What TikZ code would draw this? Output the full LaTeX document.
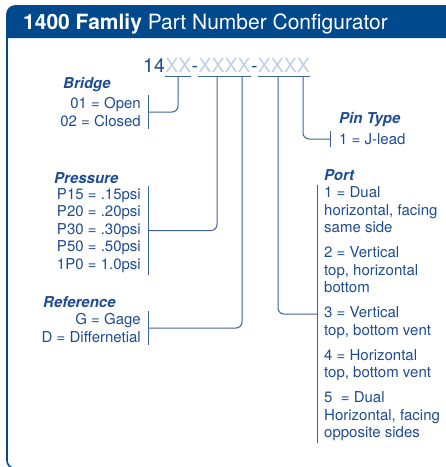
\documentclass[tikz,border=0pt]{standalone}
\usepackage{fontspec}
\setmainfont{TeX Gyre Heros}
\definecolor{cfgnavy}{RGB}{0,73,140}
\definecolor{cfgtext}{RGB}{30,76,144}
\definecolor{cfgline}{RGB}{62,98,160}
\definecolor{cfgpale}{RGB}{190,208,232}
\begin{document}
\begin{tikzpicture}[x=1pt,y=-1pt,
  wire/.style={draw=cfgline, line width=1pt, rounded corners=6pt},
  bar/.style={draw=cfgline, line width=1pt},
  head/.style={font=\fontsize{15}{17.5}\selectfont\bfseries\itshape, text=cfgtext, inner sep=0pt, anchor=west},
  items/.style={font=\fontsize{15}{17.5}\selectfont, text=cfgtext, inner xsep=7pt, inner ysep=2pt},
  code/.style={font=\fontsize{19.5}{20}\selectfont, inner sep=0pt, anchor=base west}]
\useasboundingbox (0,0) rectangle (446,467);
\draw[cfgnavy, line width=1.6pt, rounded corners=8pt] (7,6) rectangle (470,468.5);
\fill[cfgnavy] (7,38) -- (7,14) arc[start angle=180, end angle=270, radius=8] -- (470,6) -- (470,38) -- cycle;
\node[anchor=base west, inner sep=0pt, text=white, font=\fontsize{21}{22}\selectfont] (title) at (23,29) {\textbf{1400 Famliy} Part Number Configurator};
\node[code, text=cfgtext] (c0) at (143,72) {14};
\node[code, text=cfgpale] (xa) at (c0.base east) {XX};
\node[code, text=cfgtext] (d1) at (xa.base east) {-};
\node[code, text=cfgpale] (xb) at (d1.base east) {XXXX};
\node[code, text=cfgtext] (d2) at (xb.base east) {-};
\node[code, text=cfgpale] (xc) at (d2.base east) {XXXX};
\draw[bar] ([yshift=-4pt]xa.base west) -- ([yshift=-4pt]xa.base east);
\draw[bar] ([yshift=-4pt]xb.base west) -- ([yshift=-4pt]xb.base east);
\draw[bar] ([yshift=-4pt]xc.base west) -- ([yshift=-4pt]xc.base east);
\coordinate (tb) at (178,76);
\coordinate (tp) at (217,76);
\coordinate (tr) at (242,76);
\coordinate (tpo) at (278,76);
\coordinate (tpi) at (303,76);
% left side
\node[head] (bh) at (63,85) {Bridge};
\node[items, align=right, anchor=east] (b) at (148,112) {01 = Open\\02 = Closed};
\node[head] (ph) at (54,178) {Pressure};
\node[items, align=right, anchor=east] (p) at (148,230.5) {P15 = .15psi\\P20 = .20psi\\P30 = .30psi\\P50 = .50psi\\1P0 = 1.0psi};
\node[head] (rh) at (43,302) {Reference};
\node[items, align=right, anchor=east] (r) at (148,328) {G = Gage\\D = Differnetial};
% right side
\node[head] (pih) at (339,120) {Pin Type};
\node[items, align=left, anchor=west, inner xsep=9pt] (pi) at (330,139) {1 = J-lead};
\node[head] (poh) at (324,175) {Port};
\node[items, align=left, anchor=west] (po) at (317,314) {1 = Dual\\horizontal, facing\\same side\\[7.5pt]2 = Vertical\\top, horizontal\\bottom\\[7.5pt]3 = Vertical\\top, bottom vent\\[7.5pt]4 = Horizontal\\top, bottom vent\\[7.5pt]5~ = Dual\\Horizontal, facing\\opposite sides};
\draw[bar] (b.north east) -- (b.south east);
\draw[bar] (p.north east) -- (p.south east);
\draw[bar] (r.north east) -- (r.south east);
\draw[bar] (pi.north west) -- (pi.south west);
\draw[bar] (po.north west) -- (po.south west);
\draw[wire] (tb) |- (b.east);
\draw[wire] (tp) |- (p.east);
\draw[wire] (tr) |- (r.east);
\draw[wire] (tpo) |- (po.west);
\draw[wire] (tpi) |- (pi.west);
\end{tikzpicture}
\end{document}
